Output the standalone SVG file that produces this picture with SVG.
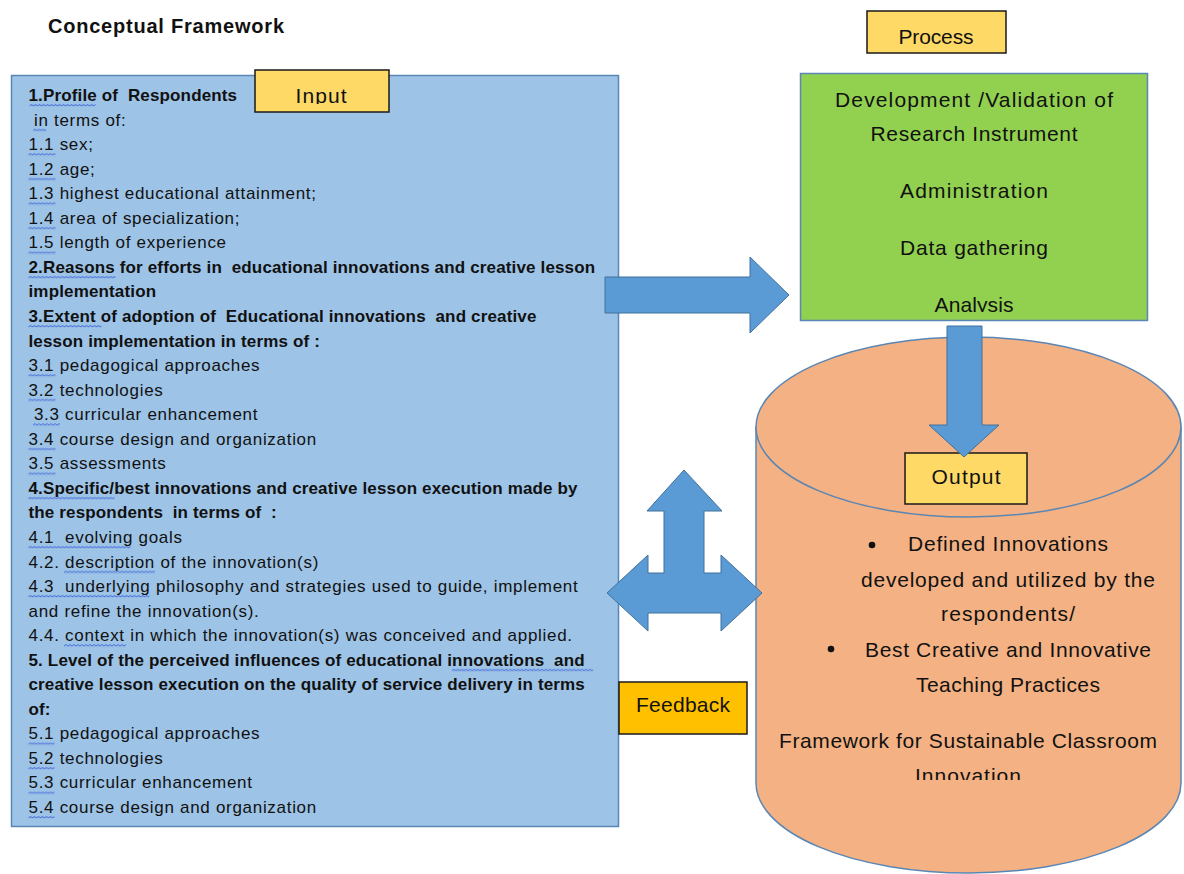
<svg xmlns="http://www.w3.org/2000/svg" width="1184" height="874" viewBox="0 0 1184 874">
<style>
text{white-space:pre}
.t{font-family:"Liberation Sans",Arial,sans-serif;font-size:17px;fill:#111;letter-spacing:0.7px}
.b{font-weight:bold;letter-spacing:0.15px}
.r{font-family:"Liberation Sans",Arial,sans-serif;font-size:21px;fill:#111;text-anchor:middle}
.lbl{fill:#ffd966;stroke:#1a1a1a;stroke-width:1.5}
.arrow{fill:#5b9bd5;stroke:#41719c;stroke-width:1}
.wv{fill:url(#wave)}
</style>
<defs>
<pattern id="wave" width="4" height="3" patternUnits="userSpaceOnUse">
<path d="M0,2.4 L1,1 L2,0.6 L3,1 L4,2.4" fill="none" stroke="#3a5fd9" stroke-width="0.9"/>
</pattern>
<clipPath id="clipInput"><rect x="250" y="60" width="150" height="44"/></clipPath>
<clipPath id="clipGreen"><rect x="800" y="73" width="348" height="239"/></clipPath>
<clipPath id="clipCyl"><rect x="756" y="500" width="425" height="280"/></clipPath>
</defs>

<text class="t b" x="48" y="33" textLength="236" lengthAdjust="spacing" style="font-size:20px;letter-spacing:0">Conceptual Framework</text>

<g id="input">
<rect x="11.5" y="75.5" width="607" height="751" fill="#9dc3e6" stroke="#5a86b5" stroke-width="1.5"/>
<g>
<text class="t b" x="28.5" y="101" xml:space="preserve">1.Profile of  Respondents</text>
<text class="t" x="28.5" y="125.6" xml:space="preserve"> in terms of:</text>
<text class="t" x="28.5" y="150.1">1.1 sex;</text>
<text class="t" x="28.5" y="174.7">1.2 age;</text>
<text class="t" x="28.5" y="199.2">1.3 highest educational attainment;</text>
<text class="t" x="28.5" y="223.8">1.4 area of specialization;</text>
<text class="t" x="28.5" y="248.3">1.5 length of experience</text>
<text class="t b" x="28.5" y="272.9" xml:space="preserve">2.Reasons for efforts in  educational innovations and creative lesson</text>
<text class="t b" x="28.5" y="297.4">implementation</text>
<text class="t b" x="28.5" y="322" xml:space="preserve">3.Extent of adoption of  Educational innovations  and creative</text>
<text class="t b" x="28.5" y="346.5">lesson implementation in terms of :</text>
<text class="t" x="28.5" y="371.1">3.1 pedagogical approaches</text>
<text class="t" x="28.5" y="395.6">3.2 technologies</text>
<text class="t" x="28.5" y="420.2" xml:space="preserve"> 3.3 curricular enhancement</text>
<text class="t" x="28.5" y="444.7">3.4 course design and organization</text>
<text class="t" x="28.5" y="469.3">3.5 assessments</text>
<text class="t b" x="28.5" y="493.8">4.Specific/best innovations and creative lesson execution made by</text>
<text class="t b" x="28.5" y="518.4" xml:space="preserve">the respondents  in terms of  :</text>
<text class="t" x="28.5" y="542.9" xml:space="preserve">4.1  evolving goals</text>
<text class="t" x="28.5" y="567.5">4.2. description of the innovation(s)</text>
<text class="t" x="28.5" y="592" xml:space="preserve">4.3  underlying philosophy and strategies used to guide, implement</text>
<text class="t" x="28.5" y="616.6">and refine the innovation(s).</text>
<text class="t" x="28.5" y="641.1">4.4. context in which the innovation(s) was conceived and applied.</text>
<text class="t b" x="28.5" y="665.7" xml:space="preserve">5. Level of the perceived influences of educational innovations  and</text>
<text class="t b" x="28.5" y="690.2">creative lesson execution on the quality of service delivery in terms</text>
<text class="t b" x="28.5" y="714.8">of:</text>
<text class="t" x="28.5" y="739.3">5.1 pedagogical approaches</text>
<text class="t" x="28.5" y="763.9">5.2 technologies</text>
<text class="t" x="28.5" y="788.4">5.3 curricular enhancement</text>
<text class="t" x="28.5" y="813">5.4 course design and organization</text>
</g>
<g>
<rect class="wv" transform="translate(29.5,104)" width="66" height="3"/>
<rect class="wv" transform="translate(33,128.6)" width="13" height="3"/>
<rect class="wv" transform="translate(28.5,153.1)" width="27" height="3"/>
<rect class="wv" transform="translate(28.5,177.7)" width="27" height="3"/>
<rect class="wv" transform="translate(28.5,202.2)" width="27" height="3"/>
<rect class="wv" transform="translate(28.5,226.8)" width="27" height="3"/>
<rect class="wv" transform="translate(28.5,251.3)" width="27" height="3"/>
<rect class="wv" transform="translate(28.5,275.9)" width="87" height="3"/>
<rect class="wv" transform="translate(28.5,325)" width="73" height="3"/>
<rect class="wv" transform="translate(28.5,374.1)" width="27" height="3"/>
<rect class="wv" transform="translate(28.5,398.6)" width="27" height="3"/>
<rect class="wv" transform="translate(33,423.2)" width="27" height="3"/>
<rect class="wv" transform="translate(28.5,447.7)" width="27" height="3"/>
<rect class="wv" transform="translate(28.5,472.3)" width="27" height="3"/>
<rect class="wv" transform="translate(28.5,496.8)" width="86" height="3"/>
<rect class="wv" transform="translate(28.5,545.9)" width="102" height="3"/>
<rect class="wv" transform="translate(64,570.5)" width="91" height="3"/>
<rect class="wv" transform="translate(28.5,595)" width="121" height="3"/>
<rect class="wv" transform="translate(64,644.1)" width="62" height="3"/>
<rect class="wv" transform="translate(452,668.7)" width="141" height="3"/>
<rect class="wv" transform="translate(28.5,742.3)" width="26" height="3"/>
<rect class="wv" transform="translate(28.5,766.9)" width="26" height="3"/>
<rect class="wv" transform="translate(28.5,791.4)" width="26" height="3"/>
<rect class="wv" transform="translate(28.5,816)" width="26" height="3"/>
</g>
</g>

<g id="input-label">
<rect class="lbl" x="255" y="70" width="134" height="42"/>
<text class="r" x="321" y="103" clip-path="url(#clipInput)" textLength="51" lengthAdjust="spacing">Input</text>
</g>

<g id="process-label">
<rect class="lbl" x="867" y="11" width="139" height="42"/>
<text class="r" x="936" y="44" textLength="75" lengthAdjust="spacing">Process</text>
</g>

<g id="process">
<rect x="800.5" y="73.5" width="347" height="247" fill="#92d050" stroke="#5a86b5" stroke-width="1.5"/>
<g clip-path="url(#clipGreen)">
<text class="r" x="974" y="107" textLength="278" lengthAdjust="spacing">Development /Validation of</text>
<text class="r" x="974" y="141" textLength="207" lengthAdjust="spacing">Research Instrument</text>
<text class="r" x="974" y="198" textLength="148" lengthAdjust="spacing">Administration</text>
<text class="r" x="974" y="255" textLength="148" lengthAdjust="spacing">Data gathering</text>
<text class="r" x="974" y="312" textLength="79" lengthAdjust="spacing">Analysis</text>
</g>
</g>

<g id="output">
<path d="M756,427 V783 A212.5,90 0 0 0 1181,783 V427 Z" fill="#f4b183" stroke="#5a86b5" stroke-width="1.5"/>
<ellipse cx="968.5" cy="427" rx="212.5" ry="90" fill="#f4b183" stroke="#5a86b5" stroke-width="1.5"/>
<circle cx="872" cy="545" r="3.3" fill="#111"/>
<text class="r" x="1008" y="551" textLength="200" lengthAdjust="spacing">Defined Innovations</text>
<text class="r" x="1008" y="587" textLength="294" lengthAdjust="spacing">developed and utilized by the</text>
<text class="r" x="1008" y="621" textLength="134" lengthAdjust="spacing">respondents/</text>
<circle cx="831" cy="649" r="3.3" fill="#111"/>
<text class="r" x="1008" y="657" textLength="286" lengthAdjust="spacing">Best Creative and Innovative</text>
<text class="r" x="1008" y="692" textLength="184" lengthAdjust="spacing">Teaching Practices</text>
<g clip-path="url(#clipCyl)">
<text class="r" x="968" y="748" textLength="378" lengthAdjust="spacing">Framework for Sustainable Classroom</text>
<text class="r" x="968" y="783" textLength="106" lengthAdjust="spacing">Innovation</text>
</g>
</g>

<g id="output-label">
<rect class="lbl" x="905" y="453" width="122" height="51"/>
<text class="r" x="966" y="484" textLength="69" lengthAdjust="spacing">Output</text>
</g>

<g id="feedback-label">
<rect x="619" y="682" width="128" height="52" fill="#ffc000" stroke="#1a1a1a" stroke-width="1.5"/>
<text class="r" x="683" y="712" textLength="94" lengthAdjust="spacing">Feedback</text>
</g>

<g id="connectors">
<polygon class="arrow" points="605,277 750,277 750,257 789,295 750,333 750,313 605,313"/>
<polygon class="arrow" points="947,326 982,326 982,425 999,425 964,457 929,425 947,425"/>
<polygon class="arrow" points="684,470 722,511 704,511 704,573 721,573 721,555 762,593 721,631 721,613 648,613 648,631 607,593 648,555 648,573 664,573 664,511 647,511"/>
</g>
</svg>
